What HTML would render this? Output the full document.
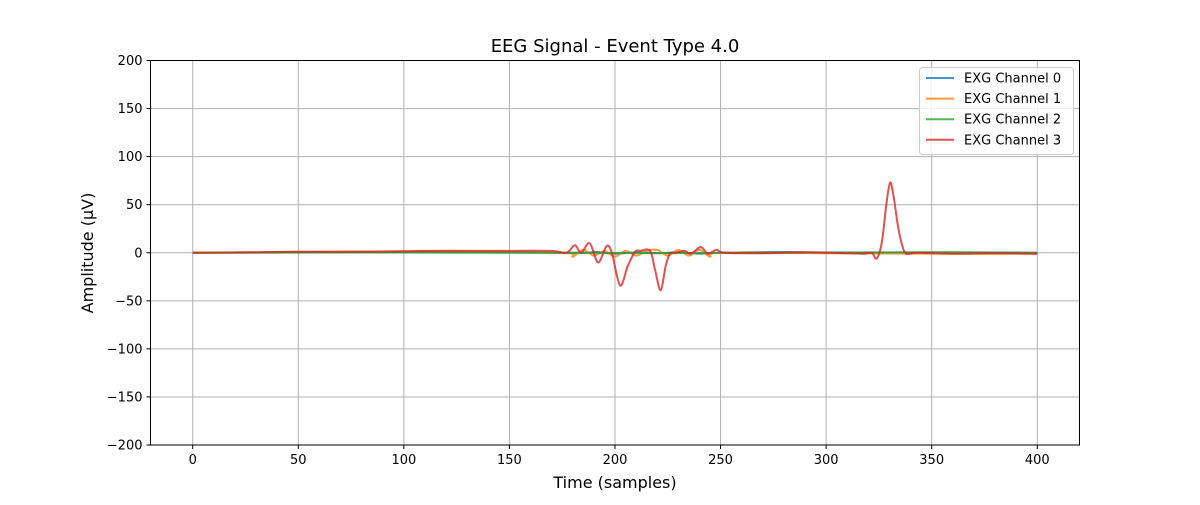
<!DOCTYPE html>
<html><head><meta charset="utf-8"><style>
body{margin:0;background:#fff;font-family:"Liberation Sans","DejaVu Sans",sans-serif}
svg text{font-family:"DejaVu Sans","Liberation Sans",sans-serif}
</style></head><body>
<svg id="chart" width="1200" height="500" xmlns="http://www.w3.org/2000/svg">
<rect width="1200" height="500" fill="#fff"/>
<g id="grid"></g>
<g id="series"></g>
<rect x="150.5" y="60.5" width="929" height="384.5" fill="none" stroke="#000" stroke-width="1"/>
<g id="ticks"></g>
<text x="615" y="52" text-anchor="middle" font-size="18">EEG Signal - Event Type 4.0</text>
<text x="615" y="488" text-anchor="middle" font-size="16">Time (samples)</text>
<text x="93" y="253" text-anchor="middle" font-size="16" transform="rotate(-90 93 253)">Amplitude (µV)</text>
<g id="legend">
<rect x="919.5" y="67.5" width="154" height="87" rx="3" fill="#fff" fill-opacity="0.8" stroke="#ccc"/>
</g>
</svg>
<script>
const xTicks=[0,50,100,150,200,250,300,350,400];
const yTicks=[-200,-150,-100,-50,0,50,100,150,200];
const seriesNames=["EXG Channel 0","EXG Channel 1","EXG Channel 2","EXG Channel 3"];
const ch0X=[0,100,180,190,200,210,220,230,240,250,280,300,350,400];
const ch0Y=[0,0.5,0,1,-1,0.5,-0.5,0.5,-1,0,0.8,0,0.3,0];
const ch1X=[0,60,120,175,180,185,190,195,200,205,210,215,220,225,230,235,240,245,250,300,360,400];
const ch1Y=[0,1,1.5,0,-4,3,-3,2,-4,2,-3,2,3,-3,3,-3,3,-4,0,-0.5,-1,-1];
const ch2X=[0,100,200,300,360,400];
const ch2Y=[0,0.3,-0.3,0.2,0.5,0];
const ch3X=[0,30,50,70,100,110,130,150,170,177,181,184,188,192,196,198.5,202.4,206,209.5,212,216.6,219,221.6,224,226,229,233,236,240.6,244,248,252,270,290,310,318,321.6,324,326.4,328.5,330.3,332,334,336,338,343,360,380,400];
const ch3Y=[0,0.5,1,1,1.5,2,2,2,2,0,7.8,0,10,-10,7,0,-34,-14,1,2,2,-18,-39,-14,-1,0,2,-1,6,-1,3,0,-0.5,0.5,-0.5,-1,0,-6,11,50,73,58,28,8,-1,0,-1,-0.5,-1];
const colors=["#1f77b4","#ff7f0e","#2ca02c","#d62728"];
const X0=150.5,X1=1079.5,Y0=60.5,Y1=445;
const xs=v=>X0+(v+20)/440*(X1-X0);
const ys=v=>Y1-(v+200)/400*(Y1-Y0);
const NS="http://www.w3.org/2000/svg";
function mk(tag,attrs,parent){const e=document.createElementNS(NS,tag);for(const k in attrs)e.setAttribute(k,attrs[k]);parent.appendChild(e);return e;}
const grid=document.getElementById('grid'),ticks=document.getElementById('ticks');
xTicks.forEach(t=>{const x=xs(t);
 const g=mk('line',{x1:x,x2:x,y1:Y0,y2:Y1,stroke:'#b0b0b0','stroke-width':1},grid);
 
 
 mk('line',{x1:x,x2:x,y1:Y1,y2:Y1+4,stroke:'#000'},ticks);
 const tx=mk('text',{x:x,y:Y1+19,'text-anchor':'middle','font-size':13},ticks);tx.textContent=t;
 
 });
yTicks.forEach(t=>{const y=ys(t);
 const g=mk('line',{x1:X0,x2:X1,y1:y,y2:y,stroke:'#b0b0b0','stroke-width':1},grid);
 
 
 mk('line',{x1:X0-4,x2:X0,y1:y,y2:y,stroke:'#000'},ticks);
 const tx=mk('text',{x:X0-8,y:y+4.5,'text-anchor':'end','font-size':13},ticks);tx.textContent=t.toString().replace('-','−');
 
 });
function pathFor(xa,ya){const p=xa.map((x,i)=>[xs(x),ys(ya[i])]);let d=`M${p[0][0]},${p[0][1]}`;
 for(let i=0;i<p.length-1;i++){const p0=p[Math.max(0,i-1)],p1=p[i],p2=p[i+1],p3=p[Math.min(p.length-1,i+2)];
  const c1=[p1[0]+(p2[0]-p0[0])/6,p1[1]+(p2[1]-p0[1])/6],c2=[p2[0]-(p3[0]-p1[0])/6,p2[1]-(p3[1]-p1[1])/6];
  d+=` C${c1[0]},${c1[1]} ${c2[0]},${c2[1]} ${p2[0]},${p2[1]}`;}return d;}
const ser=document.getElementById('series');
[[ch0X,ch0Y],[ch1X,ch1Y],[ch2X,ch2Y],[ch3X,ch3Y]].forEach((s,i)=>{
 const p=mk('path',{d:pathFor(s[0],s[1]),fill:'none',stroke:colors[i],'stroke-width':2,'stroke-opacity':0.8},ser);
 
 });
const lg=document.getElementById('legend');
seriesNames.forEach((n,i)=>{const y=78+i*20.6;
 const l=mk('line',{x1:926,x2:954,y1:y,y2:y,stroke:colors[i],'stroke-width':2,'stroke-opacity':0.8},lg);
 
 
 const t=mk('text',{x:964,y:y+4.5,'font-size':13},lg);t.textContent=n;
 
 });
</script>
</body></html>
